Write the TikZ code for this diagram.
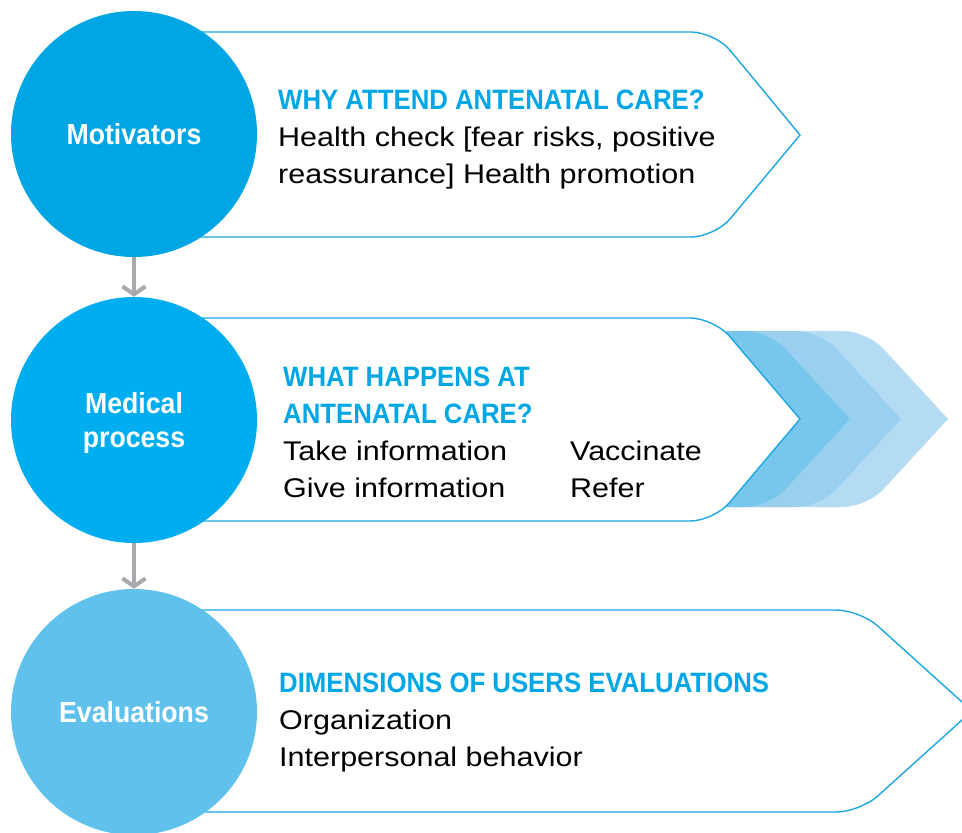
\documentclass[tikz,border=0pt]{standalone}
\usepackage{fontspec}
\setmainfont{Liberation Sans}
\newfontfamily\headfont[FakeStretch=0.92]{Liberation Sans}
\newfontfamily\bodyfont[FakeStretch=1.13]{Liberation Sans}
\usetikzlibrary{arrows.meta}
\definecolor{motblue}{HTML}{00A5E3}
\definecolor{medblue}{HTML}{00AEEF}
\definecolor{evalblue}{HTML}{60C1EC}
\definecolor{rimblue}{HTML}{1BA7E1}
\definecolor{headblue}{HTML}{00A7E4}
\definecolor{chevA}{HTML}{79C6ED}
\definecolor{chevB}{HTML}{99D0F0}
\definecolor{chevC}{HTML}{B3DBF4}
\definecolor{arrgray}{HTML}{A7A9AC}
\newcommand\heading[1]{{\color{headblue}\headfont\bfseries\fontsize{28}{37}\selectfont #1}}

\begin{document}
\begin{tikzpicture}[
    x=1pt, y=-1pt,
    stage/.style={circle, minimum size=246pt, inner sep=0pt, text=white,
                  align=center, font=\headfont\bfseries\fontsize{29}{34}\selectfont},
    panel/.style={fill=white, draw=rimblue, line width=1.4pt},
    txt/.style={anchor=base west, inner sep=0pt,
                font=\bodyfont\fontsize{27}{37}\selectfont},
    arr/.style={draw=arrgray, line width=4pt,
                -{Straight Barb[length=8pt, width=23pt]}}
]
\useasboundingbox (0,0) rectangle (962,833);

% panels behind the circles
\path[panel] (150,32) [rounded corners=24pt] -- (715,32) [sharp corners] -- (800,135)
    [rounded corners=24pt] -- (715,237) -- (150,237) -- cycle;

\path[fill=chevC] (690,331) [rounded corners=24pt] -- (867,331) [sharp corners] -- (948,419)
    [rounded corners=24pt] -- (867,507) [sharp corners] -- (690,507) -- cycle;
\path[fill=chevB] (690,331) [rounded corners=24pt] -- (820,331) [sharp corners] -- (901,419)
    [rounded corners=24pt] -- (820,507) [sharp corners] -- (690,507) -- cycle;
\path[fill=chevA] (690,331) [rounded corners=24pt] -- (769,331) [sharp corners] -- (850,419)
    [rounded corners=24pt] -- (769,507) [sharp corners] -- (690,507) -- cycle;
\path[panel] (150,318) [rounded corners=24pt] -- (714,318) [sharp corners] -- (800,419)
    [rounded corners=24pt] -- (714,521) -- (150,521) -- cycle;

\path[panel] (150,610) [rounded corners=24pt] -- (860,610) [sharp corners] -- (972,711)
    [rounded corners=24pt] -- (860,812) -- (150,812) -- cycle;

% circles
\node[stage, fill=motblue] (mot) at (134,134) {Motivators};
\node[stage, fill=medblue] (med) at (134,420) {\rule{0pt}{28pt}Medical\\process};
\node[stage, fill=evalblue] (eval) at (134,712) {Evaluations};

\draw[arr] (mot) -- (med);
\draw[arr] (med) -- (eval);

% panel texts
\node[txt] (why) at (278,109) {\begin{tabular}[t]{@{}l@{}}
    \heading{WHY ATTEND ANTENATAL CARE?}\\
    Health check [fear risks, positive\\
    reassurance] Health promotion
  \end{tabular}};
\node[txt] (what) at (283,386) {\begin{tabular}[t]{@{}p{287pt}@{}l@{}}
    \multicolumn{2}{@{}l@{}}{\heading{WHAT HAPPENS AT}}\\
    \multicolumn{2}{@{}l@{}}{\heading{ANTENATAL CARE?}}\\
    Take information & Vaccinate\\
    Give information & Refer
  \end{tabular}};
\node[txt] (dims) at (279,692) {\begin{tabular}[t]{@{}l@{}}
    \heading{DIMENSIONS OF USERS EVALUATIONS}\\
    Organization\\
    Interpersonal behavior
  \end{tabular}};
\end{tikzpicture}
\end{document}
